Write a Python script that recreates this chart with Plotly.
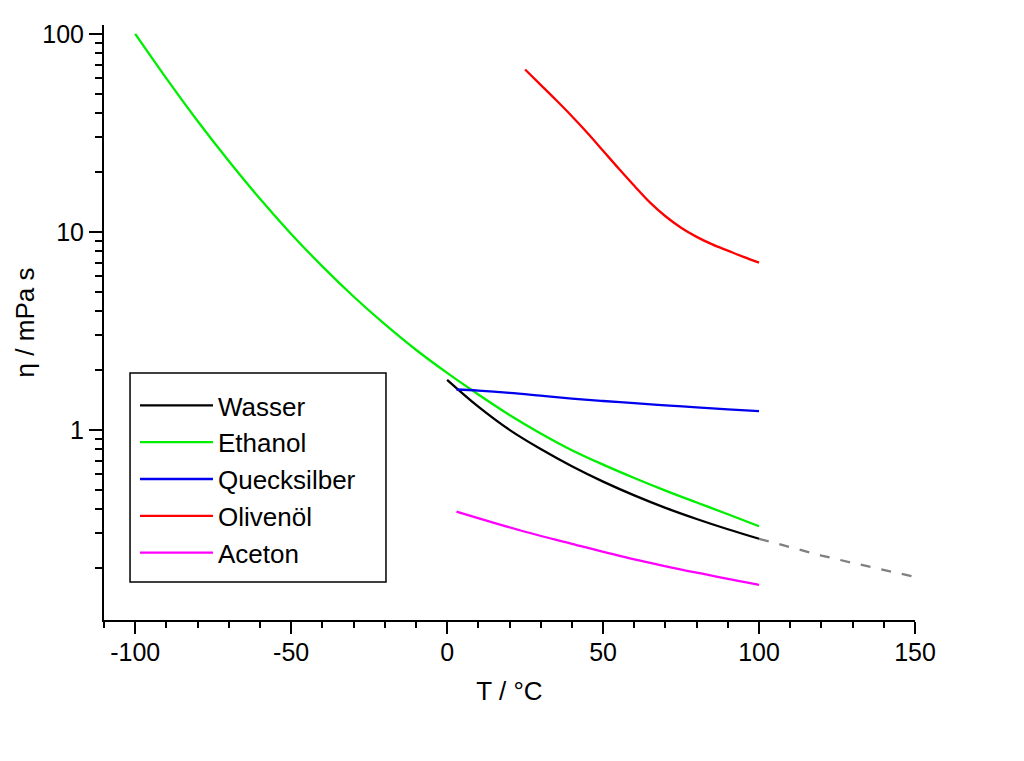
import plotly.graph_objects as go

# ---- data ----
ethanol_T = [-100, -90, -80, -70, -60, -50, -40, -30, -20, -10, 0, 10, 20, 30, 40, 50, 60, 70, 80, 90, 100]
ethanol_eta = [100, 59.6, 36.3, 22.8, 14.7, 9.77, 6.70, 4.72, 3.42, 2.54, 1.94, 1.51, 1.19, 0.96, 0.79, 0.668, 0.572, 0.494, 0.43, 0.375, 0.326]

water_T = [0, 10, 20, 30, 40, 50, 60, 70, 80, 90, 100]
water_eta = [1.79, 1.31, 1.00, 0.80, 0.655, 0.548, 0.467, 0.404, 0.355, 0.315, 0.282]

water_ext_T = [100, 110, 120, 130, 140, 150]
water_ext_eta = [0.282, 0.255, 0.232, 0.213, 0.196, 0.181]

mercury_T = [3, 10, 20, 30, 40, 50, 60, 70, 80, 90, 100]
mercury_eta = [1.60, 1.58, 1.54, 1.49, 1.44, 1.40, 1.365, 1.33, 1.30, 1.27, 1.245]

olive_T = [25, 30, 35, 40, 45, 50, 55, 60, 65, 70, 75, 80, 85, 90, 95, 100]
olive_eta = [66.1, 55.3, 46.2, 38.4, 31.6, 25.7, 20.9, 17.1, 14.1, 12.0, 10.5, 9.44, 8.65, 8.04, 7.48, 7.0]

acetone_T = [3, 25, 40, 60, 80, 100]
acetone_eta = [0.387, 0.306, 0.266, 0.222, 0.190, 0.165]

x_major = [-100, -50, 0, 50, 100, 150]
y_major = [1, 10, 100]
y_major_text = ["1", "10", "100"]
y_minor = [m * d for d in (0.1, 1, 10) for m in range(2, 10)]

FONT = "Liberation Sans, Arial, sans-serif"
LW = 2.3

fig = go.Figure()
series = [
    ("Wasser", water_T, water_eta, "#000000"),
    ("Ethanol", ethanol_T, ethanol_eta, "#00ee00"),
    ("Quecksilber", mercury_T, mercury_eta, "#0000ee"),
    ("Olivenöl", olive_T, olive_eta, "#ff0000"),
    ("Aceton", acetone_T, acetone_eta, "#ff00ff"),
]
fig.add_trace(go.Scatter(x=water_ext_T, y=water_ext_eta, mode="lines",
                         line=dict(color="#808080", width=LW, dash="10px,11px"),
                         showlegend=False, hoverinfo="skip"))
for name, xs, ys, col in series:
    fig.add_trace(go.Scatter(x=xs, y=ys, mode="lines", name=name,
                             line=dict(color=col, width=LW, shape="spline", smoothing=1.0),
                             legendgroup=name))

# legend frame (box in the plot's paper coordinates)
fig.add_shape(type="rect", xref="paper", yref="paper",
              x0=0.0321, x1=0.3477, y0=0.0639, y1=0.4151,
              line=dict(color="black", width=1.5), fillcolor="white", layer="below")

fig.update_layout(
    width=1024, height=761,
    margin=dict(l=96, r=117, t=17, b=149),
    paper_bgcolor="white", plot_bgcolor="white",
    font=dict(family=FONT, size=25, color="black"),
    showlegend=True,
    legend=dict(x=0.0382, y=0.400, xanchor="left", yanchor="top",
                bgcolor="rgba(0,0,0,0)", borderwidth=0,
                font=dict(family=FONT, size=26, color="black"),
                tracegroupgap=0, itemwidth=73),
    xaxis=dict(range=[-110, 150], showgrid=False, zeroline=False,
               showline=True, linecolor="black", linewidth=2,
               ticks="outside", ticklen=12, tickwidth=2, tickcolor="black",
               tickvals=x_major, ticktext=[str(v) for v in x_major],
               tickfont=dict(size=25), ticklabelstandoff=-3,
               minor=dict(ticks="outside", ticklen=6, tickwidth=2, tickcolor="black",
                          tick0=0, dtick=10, showgrid=False),
               title=dict(text="T / °C", font=dict(size=26), standoff=17)),
    yaxis=dict(type="log", range=[-0.96, 2.045], showgrid=False, zeroline=False,
               showline=True, linecolor="black", linewidth=2,
               ticks="outside", ticklen=13, tickwidth=2, tickcolor="black",
               tickvals=y_major, ticktext=y_major_text,
               tickfont=dict(size=25),
               minor=dict(ticks="outside", ticklen=7, tickwidth=2, tickcolor="black",
                          tickmode="array", tickvals=y_minor, showgrid=False),
               title=dict(text="η / mPa s", font=dict(size=26), standoff=0)),
)

fig.write_html("out.html")
